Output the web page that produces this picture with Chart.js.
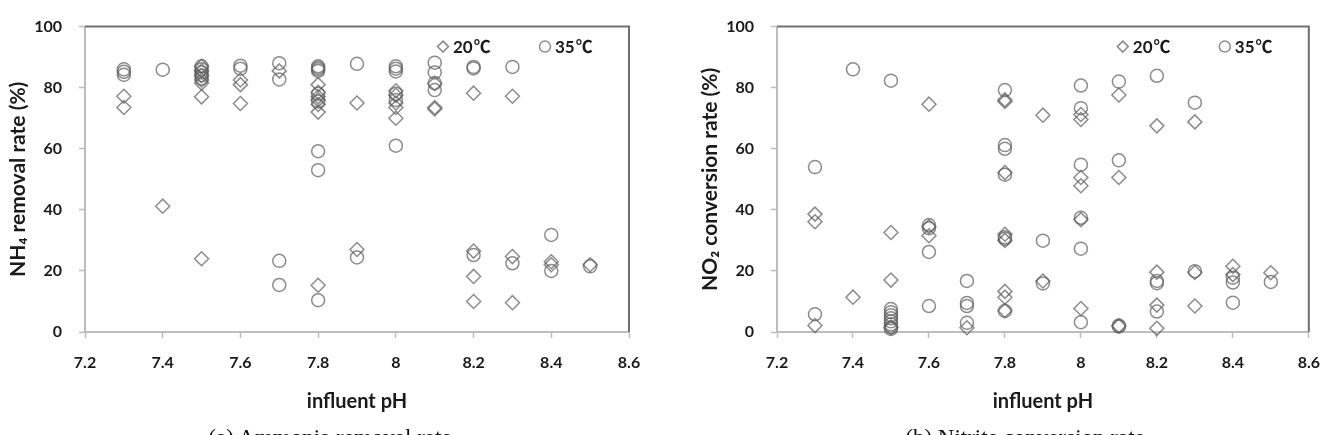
<!DOCTYPE html>
<html>
<head>
<meta charset="utf-8">
<script src="https://cdn.jsdelivr.net/npm/chart.js@4.4.1/dist/chart.umd.min.js"></script>
<style>
  body { margin: 0; background: #fff; overflow: hidden; width: 1332px; height: 435px; position: relative; }
  .box { position: absolute; top: 0; }
  .cap { position: absolute; top: 425px; width: 660px; text-align: center; font-family: "Liberation Serif", serif; font-size: 23px; color: #111; }
</style>
</head>
<body>
<div class="box" style="left:0"><canvas id="chartA" width="660" height="435"></canvas></div>
<div class="box" style="left:672px"><canvas id="chartB" width="663" height="435"></canvas></div>
<div class="cap" style="left:0">(a) Ammonia removal rate</div>
<div class="cap" style="left:695px">(b) Nitrite conversion rate</div>
<script>
// tick labels
const xTicks = [7.2, 7.4, 7.6, 7.8, 8.0, 8.2, 8.4, 8.6];
const xTickLabels = ['7.2', '7.4', '7.6', '7.8', '8', '8.2', '8.4', '8.6'];
const yTicks = [0, 20, 40, 60, 80, 100];
const yTickLabels = ['0', '20', '40', '60', '80', '100'];
const legendLabels = ['20℃', '35℃'];

// (a) NH4 removal rate, 20 C
const nh4Ph20 = [7.3, 7.3, 7.4, 7.5, 7.5, 7.5, 7.5, 7.5, 7.5, 7.5, 7.6, 7.6, 7.6, 7.7,
  7.8, 7.8, 7.8, 7.8, 7.8, 7.8, 7.8, 7.9, 7.9, 8.0, 8.0, 8.0, 8.0, 8.0, 8.1, 8.1, 8.1,
  8.2, 8.2, 8.2, 8.2, 8.3, 8.3, 8.3, 8.4, 8.4, 8.5];
const nh4Val20 = [77.2, 73.5, 41.2, 87, 85.5, 84, 82.5, 81.5, 77, 24, 82.5, 81, 74.8, 85.5,
  81, 78.5, 77, 76, 74.5, 72, 15.3, 75, 27, 79, 77.5, 75, 73.5, 70, 81.3, 73.5, 73,
  78.2, 26.5, 18.2, 10, 77.2, 24.7, 9.6, 23, 22, 22];
// (a) NH4 removal rate, 35 C
const nh4Ph35 = [7.3, 7.3, 7.3, 7.4, 7.5, 7.5, 7.5, 7.5, 7.5, 7.6, 7.6, 7.7, 7.7, 7.7, 7.7,
  7.8, 7.8, 7.8, 7.8, 7.8, 7.8, 7.8, 7.8, 7.8, 7.9, 7.9, 8.0, 8.0, 8.0, 8.0, 8.0, 8.0,
  8.1, 8.1, 8.1, 8.1, 8.2, 8.2, 8.2, 8.3, 8.3, 8.4, 8.4, 8.5];
const nh4Val35 = [86, 85.2, 84.2, 85.9, 87, 86, 85, 84, 83, 87.2, 86.2, 88, 82.7, 23.3, 15.4,
  87, 86.5, 86, 85.5, 78, 75.5, 59.2, 53, 10.4, 87.8, 24.4, 87, 86.2, 85.3, 78, 76, 61,
  88.2, 85, 81.5, 79.2, 86.8, 86.3, 25.2, 86.8, 22.5, 31.8, 20, 21.5];

// (b) NO2 conversion rate, 20 C
const no2Ph20 = [7.3, 7.3, 7.3, 7.4, 7.5, 7.5, 7.5, 7.6, 7.6, 7.6, 7.7,
  7.8, 7.8, 7.8, 7.8, 7.8, 7.8, 7.8, 7.8, 7.9, 7.9, 8.0, 8.0, 8.0, 8.0, 8.0, 8.0,
  8.1, 8.1, 8.1, 8.2, 8.2, 8.2, 8.2, 8.3, 8.3, 8.3, 8.4, 8.4, 8.5];
const no2Val20 = [38.6, 36.1, 2.1, 11.4, 32.6, 17, 1.5, 74.6, 34.5, 31.5, 1.4,
  76, 75.5, 52.2, 32, 30, 13.3, 11.4, 7, 71, 16.7, 71.2, 69.6, 50.6, 47.9, 36.8, 7.7,
  77.6, 50.6, 2, 67.5, 19.6, 8.8, 1.2, 68.8, 19.5, 8.5, 21.5, 18.8, 19.4];
// (b) NO2 conversion rate, 35 C
const no2Ph35 = [7.3, 7.3, 7.4, 7.5, 7.5, 7.5, 7.5, 7.5, 7.5, 7.5, 7.5, 7.5,
  7.6, 7.6, 7.6, 7.6, 7.7, 7.7, 7.7, 7.7, 7.8, 7.8, 7.8, 7.8, 7.8, 7.8, 7.8, 7.9, 7.9,
  8.0, 8.0, 8.0, 8.0, 8.0, 8.0, 8.1, 8.1, 8.1, 8.1, 8.2, 8.2, 8.2, 8.2, 8.3, 8.3,
  8.4, 8.4, 8.4, 8.5];
const no2Val35 = [54, 5.8, 86, 82.3, 7.5, 6.5, 5.5, 4.5, 3.5, 2.5, 1.5, 1,
  35, 34, 26.2, 8.5, 16.7, 9.5, 8.5, 3, 79.2, 61.2, 60, 51.5, 31, 30.5, 6.9, 29.9, 15.9,
  80.7, 73.3, 54.8, 37.4, 27.3, 3.2, 82, 56.2, 2.1, 1.8, 83.9, 16.7, 16, 6.7, 75.1, 19.9,
  17.8, 16.2, 9.6, 16.4];

const markColor = 'rgba(95,95,95,0.72)';
const axisColor = '#bdbdbd';
const textColor = '#1a1a1a';
const fontFam = "Lato, 'DejaVu Sans', sans-serif";

function pts(xs, ys) {
  return xs.map((x, i) => ({ x: x, y: ys[i] }));
}

// top/right frame and the small legend inside the plot
const framePlugin = {
  id: 'frame',
  afterDraw(chart) {
    const ctx = chart.ctx;
    const a = chart.chartArea;
    ctx.save();
    ctx.strokeStyle = '#707070';
    ctx.lineWidth = 2;
    ctx.beginPath();
    ctx.moveTo(a.left, a.top);
    ctx.lineTo(a.right, a.top);
    ctx.lineTo(a.right, a.bottom);
    ctx.stroke();

    const ly = a.top + 20;
    const xs = [a.right - 186, a.right - 84];
    ctx.strokeStyle = markColor;
    ctx.lineWidth = 1.5;
    // diamond
    ctx.beginPath();
    ctx.moveTo(xs[0], ly - 5.5);
    ctx.lineTo(xs[0] + 5.5, ly);
    ctx.lineTo(xs[0], ly + 5.5);
    ctx.lineTo(xs[0] - 5.5, ly);
    ctx.closePath();
    ctx.stroke();
    // circle
    ctx.beginPath();
    ctx.arc(xs[1], ly, 5.5, 0, Math.PI * 2);
    ctx.stroke();

    ctx.fillStyle = textColor;
    ctx.textBaseline = 'middle';
    ctx.textAlign = 'left';
    legendLabels.forEach((t, i) => {
      const num = t.slice(0, -1);
      ctx.font = "bold 17px Lato, sans-serif";
      ctx.fillText(num, xs[i] + 10, ly + 1);
      const w = ctx.measureText(num).width;
      ctx.font = "bold 17px 'Noto Sans CJK KR', sans-serif";
      ctx.fillText(t.slice(-1), xs[i] + 11 + w, ly);
    });
    ctx.restore();
  }
};

function makeChart(id, d20, d35, yTitle, pad) {
  const ctx = document.getElementById(id).getContext('2d');
  return new Chart(ctx, {
    type: 'scatter',
    data: {
      datasets: [
        {
          label: legendLabels[0],
          data: d20,
          pointStyle: 'rectRot',
          pointRadius: 7,
          borderWidth: 1.5,
          borderColor: markColor,
          backgroundColor: 'rgba(0,0,0,0)',
          clip: false
        },
        {
          label: legendLabels[1],
          data: d35,
          pointStyle: 'circle',
          pointRadius: 6.5,
          borderWidth: 1.5,
          borderColor: markColor,
          backgroundColor: 'rgba(0,0,0,0)',
          clip: false
        }
      ]
    },
    options: {
      responsive: false,
      animation: false,
      devicePixelRatio: 1,
      events: [],
      layout: { autoPadding: false, padding: pad },
      scales: {
        x: {
          type: 'linear',
          min: 7.2,
          max: 8.6,
          afterBuildTicks: s => { s.ticks = xTicks.map(v => ({ value: v })); },
          afterFit: s => { s.height = 82; },
          ticks: {
            callback: (v, i) => xTickLabels[i],
            font: { family: fontFam, size: 16, weight: 'bold' },
            color: textColor,
            padding: 15,
            maxRotation: 0,
            autoSkip: false
          },
          grid: { drawOnChartArea: false, tickLength: 6, color: axisColor, tickWidth: 1.5 },
          border: { color: axisColor, width: 2 },
          title: {
            display: true,
            text: 'influent pH',
            font: { family: fontFam, size: 20, weight: 'bold' },
            color: textColor,
            padding: { top: 4, bottom: 0 }
          }
        },
        y: {
          min: 0,
          max: 100,
          afterBuildTicks: s => { s.ticks = yTicks.map(v => ({ value: v })); },
          afterFit: s => { s.width = 85; },
          ticks: {
            callback: (v, i) => yTickLabels[i],
            font: { family: fontFam, size: 16, weight: 'bold' },
            color: textColor,
            padding: 17
          },
          grid: { drawOnChartArea: false, tickLength: 6, color: axisColor, tickWidth: 1.5 },
          border: { color: axisColor, width: 2 },
          title: {
            display: true,
            text: yTitle,
            font: { family: fontFam, size: 21, weight: 'bold' },
            color: textColor,
            padding: { top: 6, bottom: 0 }
          }
        }
      },
      plugins: {
        legend: { display: false },
        tooltip: { enabled: false }
      }
    },
    plugins: [framePlugin]
  });
}

makeChart('chartA', pts(nh4Ph20, nh4Val20), pts(nh4Ph35, nh4Val35),
  'NH₄ removal rate (%)', { top: 16, right: 31, bottom: 21, left: 0 });
makeChart('chartB', pts(no2Ph20, no2Val20), pts(no2Ph35, no2Val35),
  'NO₂ conversion rate (%)', { top: 16, right: 12, bottom: 21, left: 20 });
</script>
</body>
</html>
